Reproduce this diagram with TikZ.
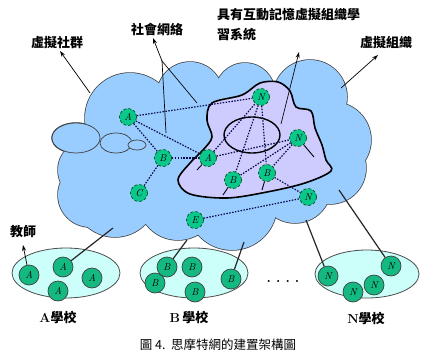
\documentclass[tikz,border=0pt]{standalone}
\usepackage{fontspec}
\newfontfamily\cjk{Noto Sans CJK TC}
\usetikzlibrary{arrows.meta}
\definecolor{cloudblue}{RGB}{153,204,255}
\definecolor{lav}{RGB}{206,204,255}
\definecolor{nodegreen}{RGB}{10,200,140}
\definecolor{schoolgreen}{RGB}{20,185,130}
\definecolor{schoolfill}{RGB}{204,255,250}
\definecolor{navy}{RGB}{10,10,70}
\begin{document}
\begin{tikzpicture}[x=1pt,y=-1pt,
  vnode/.style={circle, draw=green!25!black, densely dashed, line width=0.6pt, fill=nodegreen, minimum size=17pt, inner sep=0pt, font=\itshape\fontsize{10}{10}\selectfont},
  snode/.style={circle, draw=black!75, line width=0.7pt, fill=schoolgreen, minimum size=20pt, inner sep=0pt, font=\itshape\fontsize{10}{10}\selectfont},
  dline/.style={dash pattern=on 1.5pt off 1.4pt, line width=1.2pt, draw=navy},
  lbl/.style={font=\cjk\bfseries\fontsize{13}{13}\selectfont, inner sep=0pt},
  slbl/.style={font=\bfseries\fontsize{13}{13}\selectfont, inner sep=0pt},
  arr/.style={-{Stealth[length=6pt,width=4pt]}, line width=0.7pt},
  sline/.style={line width=1.2pt, draw=black!85},
  tail/.style={line width=0.9pt}
]
\useasboundingbox (0,0) rectangle (422,356);
\fill[white] (0,0) rectangle (422,356);
% cloud: outline pass then fill pass
\foreach \cx/\cy/\r in {130/118/45, 190/95/33, 245/93/30, 310/97/37, 333/140/38, 330/168/36, 295/187/36, 232/205/45, 178/200/40, 115/195/42, 88/170/30, 90/195/32, 220/150/70, 160/160/55}
  \filldraw[fill=cloudblue, draw=black!75, line width=1.5pt] (\cx,\cy) circle (\r pt);
\filldraw[fill=cloudblue, draw=black!75, line width=1.5pt] (76,138) ellipse (24pt and 15pt);
\foreach \cx/\cy/\r in {130/118/45, 190/95/33, 245/93/30, 310/97/37, 333/140/38, 330/168/36, 295/187/36, 232/205/45, 178/200/40, 115/195/42, 88/170/30, 90/195/32, 220/150/70, 160/160/55}
  \fill[cloudblue] (\cx,\cy) circle (\r pt);
\filldraw[fill=cloudblue, draw=black!75, line width=0.7pt] (76,138) ellipse (24pt and 15pt);
\filldraw[fill=cloudblue, draw=black!75, line width=0.7pt] (116,143) ellipse (16pt and 10pt);
\filldraw[fill=cloudblue, draw=black!75, line width=0.7pt] (137,145) ellipse (9pt and 5pt);
% purple region
\filldraw[fill=lav, draw=black, line width=1.6pt] plot[smooth cycle, tension=0.55] coordinates {(178,180) (190,163) (203,150) (212,137) (207,120) (212,103) (242,95) (260,83) (278,82) (290,91) (296,107) (311,111) (315,128) (322,145) (326,160) (331,171) (305,183) (267,192) (227,198) (190,194)};
\draw[line width=1.4pt] (252,135) ellipse (28pt and 18pt);
% virtual nodes
\node[vnode] (a1) at (128,117) {A};
\node[vnode] (b1) at (163,158) {B};
\node[vnode] (c1) at (139,193) {C};
\node[vnode] (a2) at (208,158) {A};
\node[vnode] (n1) at (261,97) {N};
\node[vnode] (n2) at (298,138) {N};
\node[vnode] (b2) at (233,180) {B};
\node[vnode] (b3) at (267,173) {B};
\node[vnode] (n3) at (308,197) {N};
\node[vnode] (e1) at (195,220) {E};
% dotted links
\draw[dline] (a1) -- (n1);
\draw[dline] (a1) -- (a2);
\draw[dline] (a1) -- (b1);
\draw[dline] (b1) -- (c1);
\draw[dline] (b1) -- (a2);
\draw[dline] (a2) -- (n1);
\draw[dline] (a2) -- (n2);
\draw[dline] (n1) -- (b2);
\draw[dline] (n1) -- (b3);
\draw[dline] (n2) -- (b2);
\draw[dline] (n2) -- (b3);
\draw[dline] (b3) -- (n3);
\draw[dline] (e1) -- (n3);
% small tails
\coordinate (ta2) at (197,170);
\coordinate (tb2) at (223,195);
\coordinate (tb3) at (262,190);
\coordinate (tn2) at (314,157);
\draw[tail] (a2) -- (ta2);
\draw[tail] (b2) -- (tb2);
\draw[tail] (b3) -- (tb3);
\draw[tail] (n2) -- (tn2);
% labels
\node[lbl] (lvs) at (57,43) {虛擬社群};
\node[lbl] (lsn) at (157,29) {社會網絡};
\node[lbl, anchor=west] (lsys1) at (217,15) {具有互動記憶虛擬組織學};
\node[lbl, anchor=west] (lsys2) at (217,35) {習系統};
\node[lbl] (lvo) at (386,43) {虛擬組織};
\node[lbl] (lt) at (23,232) {教師};
% label arrows
\coordinate (cvs) at (90,93);
\coordinate (tvs) at (60,51);
\draw[arr] (cvs) -- (tvs);
\coordinate (jsn) at (162,61);
\coordinate (tsn) at (153,38);
\coordinate (sn1) at (166,133);
\coordinate (sn2) at (197,103);
\draw[arr] (jsn) -- (tsn);
\draw[line width=0.7pt] (sn1) -- (jsn) -- (sn2);
\coordinate (csys) at (281,124);
\coordinate (tsys) at (299,52);
\draw[arr] (csys) -- (tsys);
\coordinate (cvo) at (341,88);
\coordinate (tvo) at (378,55);
\draw[arr] (cvo) -- (tvo);
% schools
\filldraw[fill=schoolfill, draw=black!70, line width=0.8pt] (66,273) ellipse (54pt and 25pt);
\filldraw[fill=schoolfill, draw=black!70, line width=0.8pt] (194,273) ellipse (54pt and 25pt);
\filldraw[fill=schoolfill, draw=black!70, line width=0.8pt] (367,274) ellipse (52pt and 24pt);
\node[snode] (sa1) at (29,275) {A};
\node[snode] (sa2) at (63,267) {A};
\node[snode] (sa3) at (92,278) {A};
\node[snode] (sa4) at (58,291) {A};
\node[snode] (sb1) at (167,267) {B};
\node[snode] (sb2) at (192,267) {B};
\node[snode] (sb3) at (155,283) {B};
\node[snode] (sb4) at (195,292) {B};
\node[snode] (sb5) at (231,279) {B};
\node[snode] (sn1n) at (328,276) {N};
\node[snode] (sn2n) at (391,266) {N};
\node[snode] (sn3n) at (374,285) {N};
\node[snode] (sn4n) at (353,292) {N};
\coordinate (ca) at (113,228);
\coordinate (cb1) at (187,240);
\coordinate (cb2) at (244,242);
\coordinate (cn1) at (306,220);
\coordinate (cn2) at (339,190);
\draw[sline] (sa2) -- (ca);
\draw[sline] (sb1) -- (cb1);
\draw[sline] (sb5) -- (cb2);
\draw[sline] (sn1n) -- (cn1);
\draw[sline] (sn2n) -- (cn2);
\coordinate (tt) at (23,245);
\draw[arr] (sa1) -- (tt);
% dots
\node[font=\bfseries\fontsize{14}{14}\selectfont] (dots) at (283,281) {.\hspace{5pt}.\hspace{5pt}.\hspace{5pt}.};
% school names
\node[slbl] (na) at (58,317) {A{\cjk 學校}};
\node[slbl] (nb) at (189,317) {B\,{\cjk 學校}};
\node[slbl] (nn) at (366,318) {N{\cjk 學校}};
% caption
\node[font=\cjk\fontsize{12.5}{12.5}\selectfont, inner sep=0pt] (cap) at (218,345) {圖 4.\ \ 思摩特網的建置架構圖};
\end{tikzpicture}
\end{document}
